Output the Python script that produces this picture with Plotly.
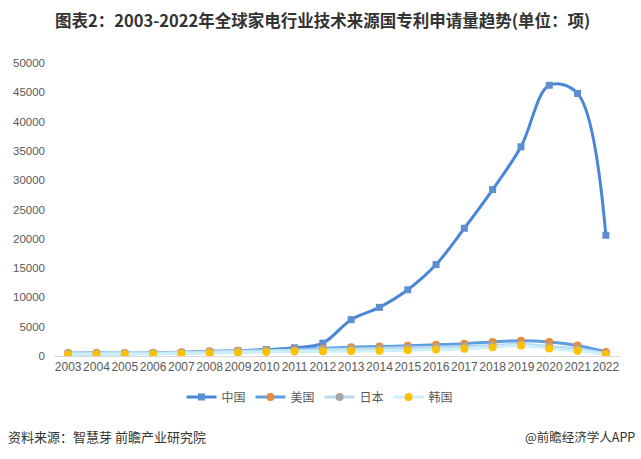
import plotly.graph_objects as go

years = [str(y) for y in range(2003, 2023)]
china = [300, 350, 400, 450, 550, 700, 850, 1100, 1400, 2200, 6200, 8300, 11300, 15600, 21800, 28400, 35700, 46200, 44800, 20600]
usa = [500, 550, 500, 550, 650, 800, 900, 1000, 1100, 1300, 1500, 1600, 1750, 1900, 2100, 2400, 2600, 2400, 1800, 700]
japan = [450, 450, 450, 500, 600, 700, 800, 900, 1000, 1100, 1200, 1300, 1400, 1500, 1600, 1800, 2000, 1600, 1200, 400]
korea = [250, 300, 300, 350, 400, 500, 600, 700, 750, 800, 850, 900, 1000, 1100, 1250, 1500, 1800, 1300, 900, 300]
yticks = [0, 5000, 10000, 15000, 20000, 25000, 30000, 35000, 40000, 45000, 50000]
ytick_labels = [str(v) for v in yticks]

title = "图表2：2003-2022年全球家电行业技术来源国专利申请量趋势(单位：项)"
source = "资料来源：智慧芽 前瞻产业研究院"
brand = "@前瞻经济学人APP"

FONT = "Liberation Sans, Arial, Noto Sans CJK SC"
CJK = "Noto Sans CJK SC, Microsoft YaHei, sans-serif"

W, H = 641, 459
l, r, t, b = 54, 21, 63, 103
pw, ph = W - l - r, H - t - b


def px(x):
    return (x - l) / pw


def py(y):
    return 1 - (y - t) / ph


fig = go.Figure()
fig.add_trace(go.Scatter(x=years, y=china, name="中国", mode="lines+markers",
                         line=dict(color="#4a86d8", width=3, shape="spline", smoothing=1.0),
                         marker=dict(symbol="square", size=7, color="#5b8fd0")))
fig.add_trace(go.Scatter(x=years, y=usa, name="美国", mode="lines+markers",
                         line=dict(color="#5b9fe0", width=3, shape="spline", smoothing=1.0),
                         marker=dict(symbol="circle", size=8, color="#e98a3a")))
fig.add_trace(go.Scatter(x=years, y=japan, name="日本", mode="lines+markers",
                         line=dict(color="#bcd7f0", width=3, shape="spline", smoothing=1.0),
                         marker=dict(symbol="circle", size=8, color="#a6a6a6")))
fig.add_trace(go.Scatter(x=years, y=korea, name="韩国", mode="lines+markers",
                         line=dict(color="#c9f0fb", width=3, shape="spline", smoothing=1.0),
                         marker=dict(symbol="circle", size=8, color="#ffc000")))

fig.update_layout(
    width=W, height=H,
    margin=dict(l=l, r=r, t=t, b=b),
    paper_bgcolor="white", plot_bgcolor="white",
    font=dict(family=FONT, color="#595959", size=12),
    showlegend=True,
    legend=dict(orientation="h", x=px(320), xanchor="center", y=py(397), yanchor="middle",
                font=dict(family=CJK, size=12, color="#595959"), itemwidth=30,
                traceorder="normal"),
    annotations=[
        dict(text="<b>" + title + "</b>", x=px(322), y=py(20), xref="paper", yref="paper",
             showarrow=False, font=dict(family=CJK, size=16.5, color="#333333"),
             xanchor="center", yanchor="middle"),
        dict(text=source, x=px(6), y=py(437), xref="paper", yref="paper", showarrow=False,
             xanchor="left", yanchor="middle",
             font=dict(family=CJK, size=13, color="#333333")),
        dict(text=brand, x=px(637), y=py(437), xref="paper", yref="paper", showarrow=False,
             xanchor="right", yanchor="middle",
             font=dict(family=CJK, size=12.5, color="#333333")),
    ],
)

fig.update_xaxes(type="category", showgrid=False, showline=True, linecolor="#d9d9d9",
                 linewidth=1, ticks="", tickangle=0,
                 tickfont=dict(family=FONT, size=12, color="#595959"),
                 range=[-0.5, 19.5], zeroline=False)
fig.update_yaxes(range=[0, 50000], tickvals=yticks, ticktext=ytick_labels,
                 showgrid=False, zeroline=False, ticklabelstandoff=8,
                 showline=False, tickfont=dict(family=FONT, size=11.5, color="#595959"), ticks="")

fig.write_html("out.html", config={"displayModeBar": False},
               post_script="document.body.style.margin='0';")
